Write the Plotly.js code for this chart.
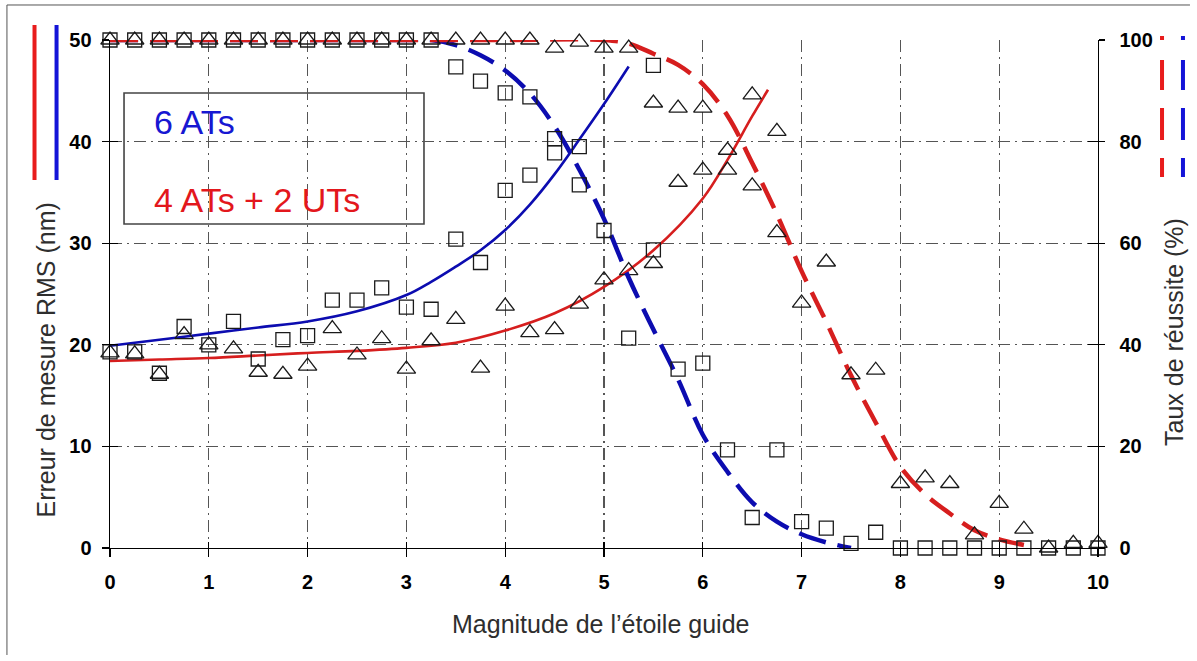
<!DOCTYPE html>
<html>
<head>
<meta charset="utf-8">
<script src="https://cdn.plot.ly/plotly-3.0.1.min.js"></script>
<style>
  html, body { margin: 0; padding: 0; background: #fff; }
  #chart { width: 1197px; height: 661px; }
</style>
</head>
<body>
<div id="chart"></div>
<script>
// ---------- data ----------
const magnitudes = [0,0.25,0.5,0.75,1,1.25,1.5,1.75,2,2.25,2.5,2.75,3,3.25,3.5,3.75,4,4.25,4.5,4.75,5,5.25,5.5,5.75,6,6.25,6.5,6.75,7,7.25,7.5,7.75,8,8.25,8.5,8.75,9,9.25,9.5,9.75,10];

// 6 ATs (squares)
const rms6AT = [19.3,19.3,17.2,21.8,20.0,22.3,18.6,20.5,20.9,24.4,24.4,25.6,23.7,23.5,30.4,28.1,35.2,36.7,38.9,39.5,null,null,47.5,
  null,null,null,null,null,null,null,null,null,null,null,null,null,null,null,null,null,null];
const rate6AT = [100,100,100,100,100,100,100,100,100,100,100,100,100,100,94.7,91.9,89.6,88.8,80.6,71.5,62.5,41.3,58.7,35.2,36.4,19.3,6.0,19.3,5.2,3.9,0.9,3.1,0,0,0,0,0,0,0,0,0];

// 4 ATs + 2 UTs (triangles)
const rms4AT2UT = [19.2,19.1,17.1,21.0,20.0,19.6,17.3,17.1,17.9,21.6,19.0,20.6,17.6,20.4,22.5,17.7,23.8,21.2,21.5,24.0,26.4,27.3,28.0,36.0,37.2,37.2,44.6,41.0,
  null,null,null,null,null,null,null,null,null,null,null,null,null];
const rate4AT2UT = [100,100,100,100,100,100,100,100,100,100,100,100,100,100,100,100,100,100,98.4,99.6,98.4,98.4,87.6,86.6,86.6,78.3,71.3,62.1,48.2,56.3,34.1,35.0,12.7,13.8,12.7,2.6,8.8,3.7,0,0.9,0.9];

// fitted curves
const fitRms6X = [0,0.5,1,1.5,2,2.5,3,3.25,3.5,3.75,4,4.25,4.5,4.75,5,5.25];
const fitRms6Y = [19.9,20.5,21.1,21.7,22.3,23.3,24.9,26.2,27.7,29.3,31.3,33.8,36.8,40.2,43.7,47.4];
const fitRms4X = [0,0.5,1,1.5,2,2.5,3,3.5,4,4.5,5,5.5,6,6.25,6.5,6.66];
const fitRms4Y = [18.4,18.55,18.7,18.95,19.2,19.4,19.7,20.2,21.4,23.1,25.7,29.3,34.4,38.2,42.5,45.1];
const fitRate6X = [0,1,2,3,3.25,3.5,3.75,4,4.25,4.5,4.75,5,5.25,5.5,5.75,6,6.25,6.5,6.75,7,7.25,7.5];
const fitRate6Y = [100,100,100,100,100,99.0,97.0,94.0,89.5,83.0,74.5,64.8,53.2,43.0,33.2,22.3,15.0,9.0,5.2,2.7,1.1,0];
const fitRate4X = [0,1,2,3,4,5,5.25,5.5,5.75,6,6.25,6.5,6.75,7,7.25,7.5,7.75,8,8.25,8.5,8.75,9,9.25];
const fitRate4Y = [100,100,100,100,100,100,99.3,97.3,95.1,91.3,85.1,75.8,65.7,54.5,44.5,34.0,24.7,16.0,10.6,6.8,3.5,1.7,0.6];

const xTicks = [0,1,2,3,4,5,6,7,8,9,10];
const yLeftTicks = [0,10,20,30,40,50];
const yRightTicks = [0,20,40,60,80,100];
const label6 = '6 ATs';
const label4 = '4 ATs + 2 UTs';

// ---------- styles ----------
const RED = '#d61e1e';
const BLUE = '#0c0cb0';
const FONT = 'Liberation Sans, Arial, Helvetica, sans-serif';
const markerLine = { color: '#1a1a1a', width: 1.3 };

const traces = [
  { x: fitRms6X, y: fitRms6Y, mode: 'lines', line: { color: BLUE, width: 2.6, shape: 'spline' }, yaxis: 'y', cliponaxis: false, hoverinfo: 'skip' },
  { x: fitRms4X, y: fitRms4Y, mode: 'lines', line: { color: RED, width: 2.6, shape: 'spline' }, yaxis: 'y', cliponaxis: false, hoverinfo: 'skip' },
  { x: fitRate6X, y: fitRate6Y, mode: 'lines', line: { color: BLUE, width: 4.5, shape: 'spline', dash: '28px,12px' }, yaxis: 'y2', cliponaxis: false, hoverinfo: 'skip' },
  { x: fitRate4X, y: fitRate4Y, mode: 'lines', line: { color: RED, width: 4.5, shape: 'spline', dash: '28px,12px' }, yaxis: 'y2', cliponaxis: false, hoverinfo: 'skip' },
  { x: magnitudes, y: rms6AT, mode: 'markers', marker: { symbol: 'square-open', size: 14, color: '#1a1a1a', line: markerLine }, yaxis: 'y', cliponaxis: false },
  { x: magnitudes, y: rate6AT, mode: 'markers', marker: { symbol: 'square-open', size: 14, color: '#1a1a1a', line: markerLine }, yaxis: 'y2', cliponaxis: false },
  { x: magnitudes, y: rms4AT2UT, mode: 'markers', marker: { symbol: 'triangle-up-open', size: 16, color: '#1a1a1a', line: markerLine }, yaxis: 'y', cliponaxis: false },
  { x: magnitudes, y: rate4AT2UT, mode: 'markers', marker: { symbol: 'triangle-up-open', size: 16, color: '#1a1a1a', line: markerLine }, yaxis: 'y2', cliponaxis: false },
  // helper traces so the tick-only overlay axes are drawn
  { x: [null], y: [null], xaxis: 'x3', yaxis: 'y', hoverinfo: 'skip' },
  { x: [null], y: [null], xaxis: 'x', yaxis: 'y3', hoverinfo: 'skip' },
  { x: [null], y: [null], xaxis: 'x', yaxis: 'y4', hoverinfo: 'skip' },
  { x: [null], y: [null], xaxis: 'x', yaxis: 'y5', hoverinfo: 'skip' }
];

const tickFont = { family: FONT, size: 20, color: '#000', weight: 700 };
const gridDash = '12px,5px,2px,5px';

const layout = {
  width: 1197, height: 661,
  margin: { l: 110, r: 99, t: 40, b: 113, pad: 0 },
  paper_bgcolor: '#fff', plot_bgcolor: '#fff',
  showlegend: false,
  font: { family: FONT, color: '#000' },
  xaxis: {
    range: [0, 10], tickvals: xTicks, ticktext: xTicks.map(String),
    ticks: 'outside', ticklen: 8, tickwidth: 1.3, tickcolor: '#000',
    showline: true, linecolor: '#000', linewidth: 1.4,
    showgrid: true, gridcolor: '#555', gridwidth: 1.3, griddash: gridDash,
    zeroline: false, tickfont: tickFont, ticklabelstandoff: 8, fixedrange: true
  },
  yaxis: {
    range: [0, 50], tickvals: yLeftTicks, ticktext: yLeftTicks.map(String),
    ticks: 'outside', ticklen: 7, tickwidth: 1.3, tickcolor: '#000',
    showline: true, linecolor: '#000', linewidth: 1.4,
    showgrid: true, gridcolor: '#555', gridwidth: 1.3, griddash: gridDash,
    zeroline: false, tickfont: tickFont, ticklabelstandoff: 6, fixedrange: true
  },
  // right axis: labels pushed out with a transparent long tick
  yaxis2: {
    range: [0, 100], tickvals: yRightTicks, ticktext: yRightTicks.map(String),
    overlaying: 'y', side: 'right', anchor: 'x',
    ticks: 'outside', ticklen: 16, tickwidth: 1, tickcolor: 'rgba(0,0,0,0)',
    showline: true, linecolor: '#000', linewidth: 1.4,
    showgrid: false, zeroline: false, tickfont: tickFont, fixedrange: true
  },
  xaxis3: {
    range: [0, 10], tickvals: xTicks, overlaying: 'x', anchor: 'y', side: 'bottom',
    ticks: 'inside', ticklen: 6, tickwidth: 1.3, tickcolor: '#000',
    showticklabels: false, showgrid: false, showline: false, zeroline: false, fixedrange: true
  },
  yaxis3: {
    range: [0, 50], tickvals: yLeftTicks, overlaying: 'y', anchor: 'x', side: 'left',
    ticks: 'inside', ticklen: 8, tickwidth: 1.3, tickcolor: '#000',
    showticklabels: false, showgrid: false, showline: false, zeroline: false, fixedrange: true
  },
  yaxis4: {
    range: [0, 100], tickvals: yRightTicks, overlaying: 'y', anchor: 'x', side: 'right',
    ticks: 'inside', ticklen: 10, tickwidth: 1.3, tickcolor: '#000',
    showticklabels: false, showgrid: false, showline: false, zeroline: false, fixedrange: true
  },
  yaxis5: {
    range: [0, 100], tickvals: yRightTicks, overlaying: 'y', anchor: 'x', side: 'right',
    ticks: 'outside', ticklen: 6, tickwidth: 1.3, tickcolor: '#000',
    showticklabels: false, showgrid: false, showline: false, zeroline: false, fixedrange: true
  },
  shapes: [
    // label box
    { type: 'rect', xref: 'paper', yref: 'paper', x0: 0.0142, x1: 0.3178, y0: 0.6378, y1: 0.8957,
      line: { color: '#444', width: 1.6 }, fillcolor: '#fff', layer: 'below' },
    // left (solid) key lines
    { type: 'line', xref: 'paper', yref: 'paper', x0: -0.0764, x1: -0.0764, y0: 1.0295, y1: 0.7244, line: { color: '#e81c1c', width: 4 } },
    { type: 'line', xref: 'paper', yref: 'paper', x0: -0.0541, x1: -0.0541, y0: 1.0295, y1: 0.7244, line: { color: '#1414d8', width: 4 } },
    // right (dashed) key lines
    { type: 'line', xref: 'paper', yref: 'paper', x0: 1.0648, x1: 1.0648, y0: 1.0079, y1: 0.7303, line: { color: '#e81c1c', width: 4, dash: '4px,20px,30px,18px,32px,18px,19px' } },
    { type: 'line', xref: 'paper', yref: 'paper', x0: 1.0860, x1: 1.0860, y0: 1.0079, y1: 0.7303, line: { color: '#1414d8', width: 4, dash: '4px,20px,30px,18px,32px,18px,19px' } },
    // image frame (left & top)
    { type: 'line', xref: 'paper', yref: 'paper', x0: -0.1043, x1: -0.1043, y0: 1.0689, y1: -0.2106, line: { color: '#555', width: 1 } },
    { type: 'line', xref: 'paper', yref: 'paper', x0: -0.1043, x1: 1.0931, y0: 1.0689, y1: 1.0689, line: { color: '#555', width: 1 } }
  ],
  annotations: [
    { text: label6, xref: 'paper', yref: 'paper', x: 0.0425, y: 0.8386, xanchor: 'left', yanchor: 'middle', showarrow: false,
      font: { family: FONT, size: 34, color: '#1717d2' } },
    { text: label4, xref: 'paper', yref: 'paper', x: 0.0425, y: 0.685, xanchor: 'left', yanchor: 'middle', showarrow: false,
      font: { family: FONT, size: 34, color: '#e3171c' } },
    { text: 'Erreur de mesure RMS (nm)', xref: 'paper', yref: 'paper', x: -0.0643, y: 0.370, xanchor: 'center', yanchor: 'middle',
      textangle: -90, showarrow: false, font: { family: FONT, size: 25, color: '#2e2e2e' } },
    { text: 'Taux de réussite (%)', xref: 'paper', yref: 'paper', x: 1.0769, y: 0.4252, xanchor: 'center', yanchor: 'middle',
      textangle: -90, showarrow: false, font: { family: FONT, size: 25, color: '#2e2e2e' } },
    { text: 'Magnitude de l’étoile guide', xref: 'paper', yref: 'paper', x: 0.496, y: -0.1496, xanchor: 'center', yanchor: 'middle',
      showarrow: false, font: { family: FONT, size: 25, color: '#2e2e2e' } }
  ]
};

Plotly.newPlot('chart', traces, layout, { displayModeBar: false, staticPlot: true });
</script>
</body>
</html>
